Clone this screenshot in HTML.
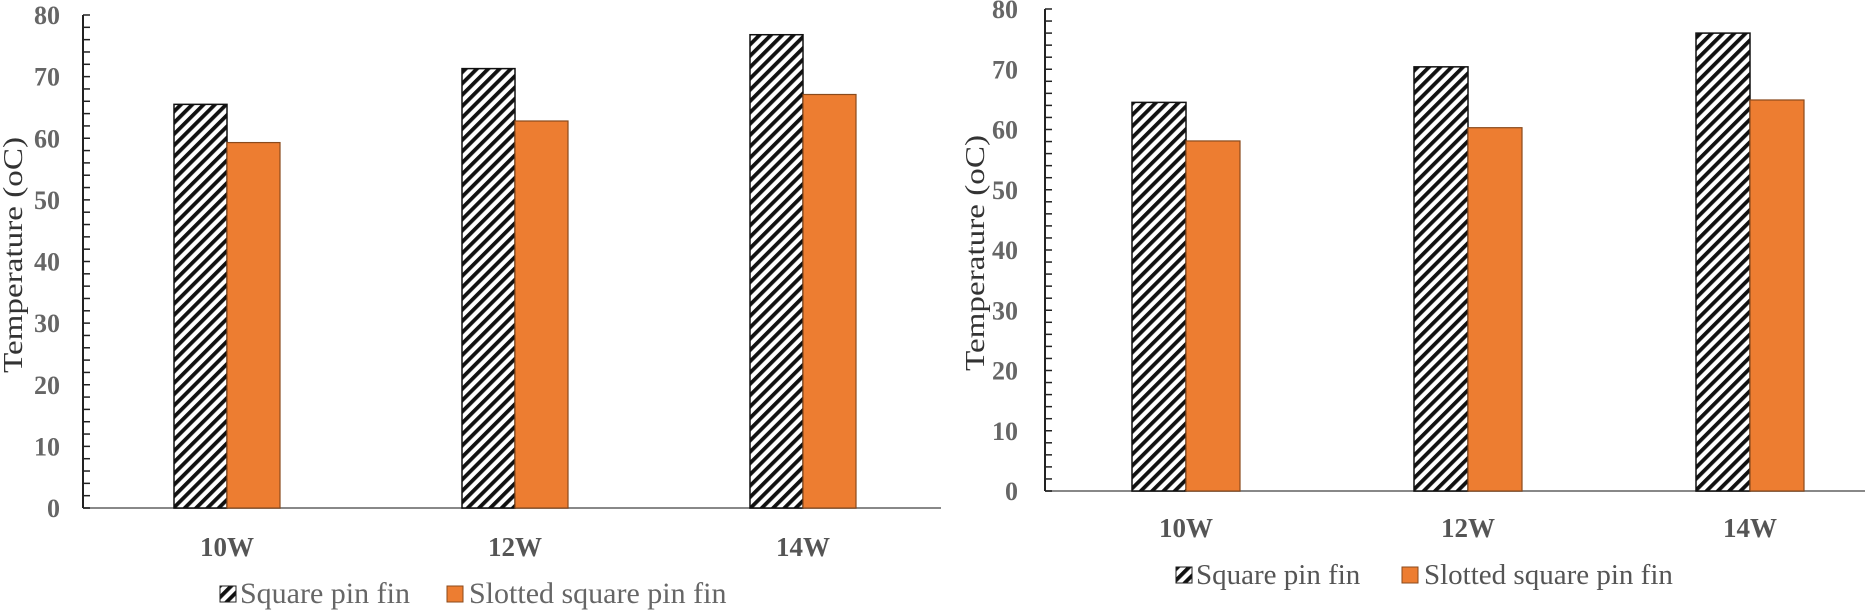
<!DOCTYPE html>
<html><head><meta charset="utf-8"><style>
html,body{margin:0;padding:0;background:#fff;}
svg{display:block;font-family:"Liberation Serif",serif;}
</style></head><body>
<svg id="c" width="1865" height="610" viewBox="0 0 1865 610">
<defs>
<pattern id="hatch" patternUnits="userSpaceOnUse" width="8" height="8" patternTransform="rotate(45)">
<rect width="8" height="8" fill="#fff"/><rect width="3.8" height="8" fill="#111"/>
</pattern>
</defs>
</svg>
<script>
const categories = ["10W","12W","14W"];
const leftSquare = [65.5, 71.3, 76.8];
const leftSlotted = [59.3, 62.8, 67.1];
const rightSquare = [64.5, 70.4, 76.0];
const rightSlotted = [58.1, 60.3, 64.9];
const yTicks = [0,10,20,30,40,50,60,70,80];
const seriesNames = ["Square pin fin","Slotted square pin fin"];

const NS="http://www.w3.org/2000/svg";
const svg=document.getElementById('c');
function mk(tag,attrs,parent){const e=document.createElementNS(NS,tag);for(const k in attrs)e.setAttribute(k,attrs[k]);(parent||svg).appendChild(e);return e;}

function drawChart(cfg, sq, sl, prefix){
  const g=mk('g',{});
  
  
  const y=v=>cfg.y0-(v/80)*(cfg.y0-cfg.y80);
  const band=cfg.band;
  const cx=i=>cfg.ax+band/2+i*band;
  const bl=mk('line',{x1:cfg.ax,y1:cfg.y0,x2:cfg.xEnd,y2:cfg.y0,stroke:'#888','stroke-width':2},g);
  
  
  const ax=mk('line',{x1:cfg.ax,y1:cfg.y80,x2:cfg.ax,y2:cfg.y0,stroke:'#222','stroke-width':2},g);
  
  
  for(let v=0;v<=80;v+=2){
    mk('line',{x1:cfg.ax,y1:y(v),x2:cfg.ax+7,y2:y(v),stroke:'#222','stroke-width':1.5},g);
  }
  yTicks.forEach(v=>{
    const t=mk('text',{x:cfg.labX,y:y(v)+9,'text-anchor':'end','font-size':26,'font-weight':'bold',fill:'#666'},g);
    t.textContent=v;
    
    
  });
  const bw=cfg.bw;
  categories.forEach((c,i)=>{
    const r1=mk('rect',{x:cx(i)-bw,y:y(sq[i]),width:bw,height:y(0)-y(sq[i]),fill:'url(#hatch)',stroke:'#111','stroke-width':1.5},g);
    
    
    const r2=mk('rect',{x:cx(i),y:y(sl[i]),width:bw,height:y(0)-y(sl[i]),fill:'#ED7D31',stroke:'#8a4a1c','stroke-width':1.2},g);
    
    
    const t=mk('text',{x:cx(i),y:cfg.catY,'text-anchor':'middle','font-size':27,'font-weight':'bold',fill:'#555'},g);
    t.textContent=c;
    
    
  });
  const tt=mk('text',{x:0,y:0,transform:`translate(${cfg.titleX},${cfg.titleY}) rotate(-90)`,'text-anchor':'middle','font-size':27,fill:'#333',textLength:236,lengthAdjust:'spacingAndGlyphs'},g);
  tt.textContent='Temperature (oC)';
  
  
  const lg=mk('g',{},g);
  
  
  const i1=mk('rect',{x:cfg.leg1,y:cfg.legY-17,width:16,height:16,fill:'url(#hatch)',stroke:'#222','stroke-width':1},lg);
  
  
  const l1=mk('text',{x:cfg.leg1+20,y:cfg.legY,'font-size':cfg.legFont,fill:cfg.legColor},lg);
  l1.textContent=seriesNames[0];
  
  
  const i2=mk('rect',{x:cfg.leg2,y:cfg.legY-17,width:16,height:16,fill:'#ED7D31',stroke:'#8a4a1c','stroke-width':1},lg);
  
  
  const l2=mk('text',{x:cfg.leg2+22,y:cfg.legY,'font-size':cfg.legFont,fill:cfg.legColor},lg);
  l2.textContent=seriesNames[1];
  
  
}

drawChart({ax:83,y0:508,y80:15,xEnd:941,band:288,bw:53,labX:60,catY:556,titleX:22,titleY:255,leg1:220,leg2:447,legY:603,legFont:30,legColor:'#666'},leftSquare,leftSlotted,'left');
drawChart({ax:1045,y0:491,y80:9,xEnd:1865,band:282,bw:54,labX:1018,catY:537,titleX:984,titleY:253,leg1:1176,leg2:1402,legY:584,legFont:29,legColor:'#555'},rightSquare,rightSlotted,'right');
</script>
</body></html>
